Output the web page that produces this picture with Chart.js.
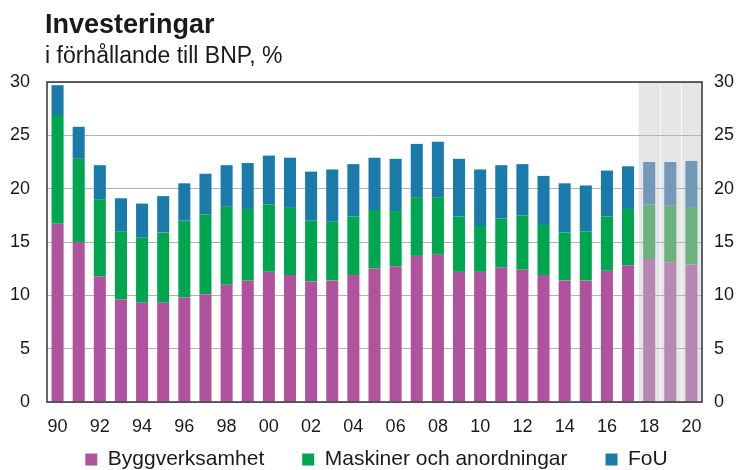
<!DOCTYPE html>
<html lang="sv">
<head>
  <meta charset="UTF-8" />
  <title>Investeringar</title>
  <style>
    html, body { margin: 0; padding: 0; background: #fff; }
    #wrap { position: relative; width: 739px; height: 470px; }
    #rubrik {
      position: absolute; left: 45px; top: 9px; line-height: 1;
      font: bold 27px "Liberation Sans", Arial, sans-serif; color: #1a1a1a;
    }
    #underrubrik {
      position: absolute; left: 45px; top: 42px; line-height: 1;
      font: 23px "Liberation Sans", Arial, sans-serif; color: #1a1a1a;
    }
    canvas { position: absolute; left: 0; top: 0; }
  </style>
</head>
<body>
  <div id="wrap">
    <canvas id="diagram" width="739" height="470"></canvas>
    <div id="rubrik">Investeringar</div>
    <div id="underrubrik">i förhållande till BNP, %</div>
  </div>

  <script src="https://cdn.jsdelivr.net/npm/chart.js"></script>
  <script>
    const years = [1990, 1991, 1992, 1993, 1994, 1995, 1996, 1997, 1998, 1999,
                   2000, 2001, 2002, 2003, 2004, 2005, 2006, 2007, 2008, 2009,
                   2010, 2011, 2012, 2013, 2014, 2015, 2016, 2017, 2018, 2019, 2020];
    const byggverksamhet = [16.7, 15.0, 11.8, 9.6, 9.3, 9.3, 9.8, 10.1, 11.0, 11.4,
                            12.2, 11.9, 11.3, 11.4, 11.9, 12.5, 12.7, 13.7, 13.8, 12.2,
                            12.2, 12.6, 12.4, 11.9, 11.4, 11.4, 12.3, 12.8, 13.4, 13.1, 12.9];
    const maskiner = [10.2, 7.8, 7.2, 6.4, 6.1, 6.6, 7.2, 7.5, 7.3, 6.7,
                      6.3, 6.3, 5.7, 5.5, 5.5, 5.5, 5.2, 5.5, 5.4, 5.2,
                      4.3, 4.6, 5.1, 4.7, 4.5, 4.6, 5.1, 5.3, 5.1, 5.3, 5.3];
    const fou = [2.8, 3.0, 3.2, 3.1, 3.2, 3.4, 3.5, 3.8, 3.9, 4.3,
                 4.6, 4.7, 4.6, 4.9, 4.9, 4.9, 4.9, 5.0, 5.2, 5.4,
                 5.3, 5.0, 4.8, 4.6, 4.6, 4.3, 4.3, 4.0, 4.0, 4.1, 4.4];
    const prognosFran = 2018;
    const yTicks = [0, 5, 10, 15, 20, 25, 30];

    const labels = years.map(y => String(y % 100).padStart(2, "0"));
    const prognosIndex = years.indexOf(prognosFran);

    function farg(vanlig, ljus) {
      return ctx => ctx.dataIndex >= prognosIndex ? ljus : vanlig;
    }

    const FONT = "'Liberation Sans', Arial, sans-serif";

    // grå bakgrund för prognosåren + ram runt diagrammet
    const prognosPlugin = {
      id: "prognos",
      beforeInit(chart) {
        // bred luft mellan legendposterna men en låg legend
        const legend = chart.legend;
        const fit = legend.fit;
        legend.fit = function () {
          fit.call(this);
          this.height = 34;
        };
        const draw = legend.draw;
        legend.draw = function () {
          const { top, left, right } = this;
          this.top = top - 25;
          this.left = left + 7;
          this.right = right + 7;
          draw.call(this);
          this.top = top;
          this.left = left;
          this.right = right;
        };
      },
      beforeDraw(chart) {
        const { ctx, chartArea, scales } = chart;
        const x0 = (scales.x.getPixelForValue(prognosIndex - 1) + scales.x.getPixelForValue(prognosIndex)) / 2;
        ctx.save();
        ctx.fillStyle = "#e5e6e8";
        ctx.fillRect(x0, chartArea.top, chartArea.right - x0, chartArea.bottom - chartArea.top);
        ctx.strokeStyle = "rgba(255,255,255,0.7)";
        ctx.lineWidth = 1;
        for (let i = prognosIndex + 1; i < years.length; i++) {
          const x = (scales.x.getPixelForValue(i - 1) + scales.x.getPixelForValue(i)) / 2;
          ctx.beginPath();
          ctx.moveTo(Math.round(x) + 0.5, chartArea.top);
          ctx.lineTo(Math.round(x) + 0.5, chartArea.bottom);
          ctx.stroke();
        }
        ctx.restore();
      },
      afterDraw(chart) {
        const { ctx, chartArea } = chart;
        ctx.save();
        ctx.strokeStyle = "#333";
        ctx.lineWidth = 1.5;
        ctx.strokeRect(chartArea.left, chartArea.top, chartArea.right - chartArea.left, chartArea.bottom - chartArea.top);
        ctx.restore();
      }
    };

    const yAxel = (pos) => ({
      type: "linear",
      position: pos,
      stacked: true,
      min: 0,
      max: 30,
      afterBuildTicks: s => { s.ticks = yTicks.map(v => ({ value: v })); },
      afterFit: s => { s.width = pos === "left" ? 47 : 37; },
      grid: { display: pos === "left", color: "#b3b3b3", lineWidth: 1, drawTicks: false },
      border: { display: false },
      ticks: {
        color: "#1a1a1a",
        font: { family: FONT, size: 18 },
        padding: pos === "left" ? 17 : 12
      }
    });

    new Chart(document.getElementById("diagram"), {
      type: "bar",
      data: {
        labels: labels,
        datasets: [
          {
            label: "Byggverksamhet",
            data: byggverksamhet,
            backgroundColor: farg("#b0539f", "#b888b5")
          },
          {
            label: "Maskiner och anordningar",
            data: maskiner,
            backgroundColor: farg("#00a54f", "#6db27e")
          },
          {
            label: "FoU",
            data: fou,
            backgroundColor: farg("#1a7bab", "#7398b8")
          }
        ]
      },
      options: {
        responsive: false,
        animation: false,
        layout: { padding: { top: 82, left: 0, right: 0, bottom: 0 } },
        datasets: {
          bar: { barPercentage: 0.57, categoryPercentage: 1, borderWidth: 0 }
        },
        scales: {
          x: {
            stacked: true,
            grid: { display: false, drawTicks: false },
            border: { display: false },
            afterFit: s => { s.height = 34; },
            ticks: {
              autoSkip: false,
              maxRotation: 0,
              color: "#1a1a1a",
              font: { family: FONT, size: 18 },
              padding: 14,
              callback: (v, i) => i % 2 === 0 ? labels[i] : ""
            }
          },
          y: yAxel("left"),
          y2: yAxel("right")
        },
        plugins: {
          title: { display: false },
          tooltip: { enabled: false },
          legend: {
            position: "bottom",
            labels: {
              color: "#1a1a1a",
              font: { family: FONT, size: 21 },
              boxWidth: 12,
              boxHeight: 12,
              padding: 38
            }
          }
        }
      },
      plugins: [prognosPlugin]
    });
  </script>
</body>
</html>
